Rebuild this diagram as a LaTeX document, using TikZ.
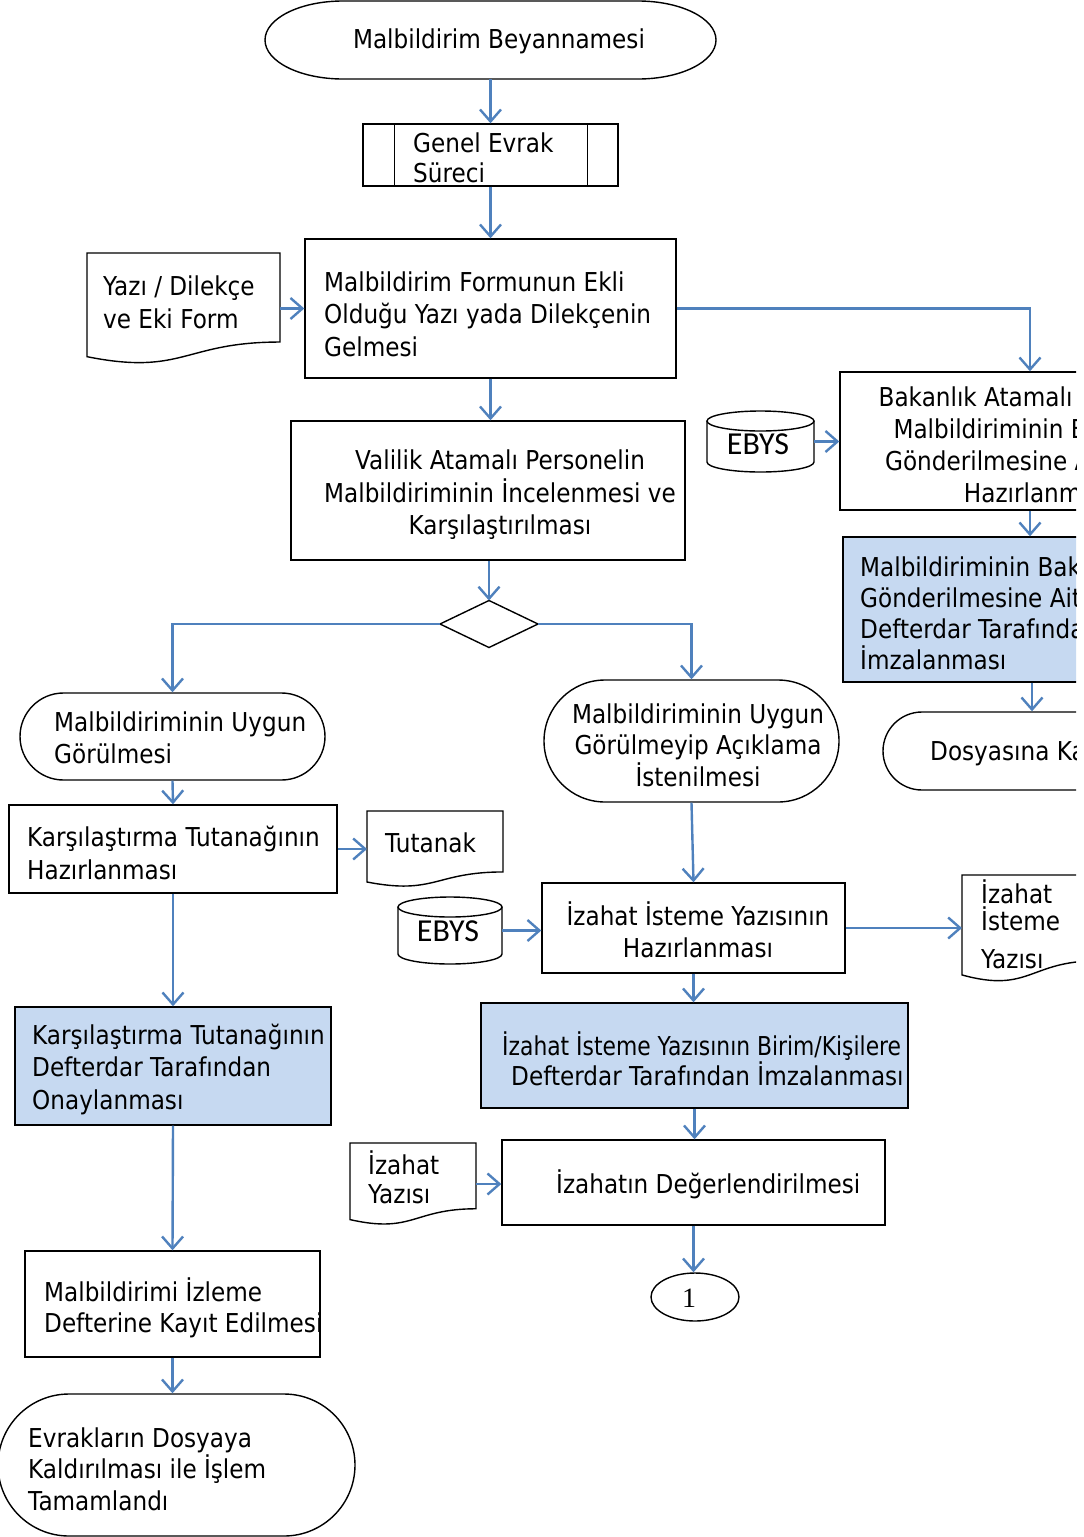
\documentclass[tikz,border=0pt]{standalone}
\usepackage{fontspec}
\setmainfont{DejaVu Sans}[FakeStretch=0.89]
\newfontfamily\narrowfont{DejaVu Sans}[FakeStretch=0.84]
\newfontfamily\ebysfont{Carlito}
\newfontfamily\onefont{Liberation Serif}
\usetikzlibrary{arrows.meta,shapes.misc,shapes.geometric,calc}
\definecolor{arrowblue}{HTML}{4F81BD}
\definecolor{fillblue}{HTML}{C6D9F1}
\tikzset{
  box/.style={draw=black, line width=1.4pt, rectangle, inner sep=0pt},
  bluebox/.style={box, fill=fillblue},
  term/.style={draw=black, line width=1.4pt, rounded rectangle, inner sep=0pt},
  ghost/.style={inner sep=0pt, outer sep=0pt, draw=none, rectangle},
  shapeline/.style={draw=black, line width=1.4pt},
  txt/.style={inner sep=0pt, font=\fontsize{26}{32.5}\selectfont, align=left, anchor=west},
  ctxt/.style={inner sep=0pt, font=\fontsize{26}{32.5}\selectfont, align=center},
  flow/.style={draw=arrowblue, line width=2.4pt, -{Straight Barb[length=12pt,width=21pt,line width=2.4pt]}},
}
\newcommand\docshp[5]{%
  \node[ghost, minimum width=#4pt, minimum height=#5pt, anchor=north west] (#1) at (#2,#3) {};
  \draw[shapeline] (#1.north west) -- (#1.north east) -- ($(#1.north east)+(0,0.802*#5)$)
    .. controls ($(#1.north west)+(0.5*#4,0.802*#5)$) and ($(#1.north west)+(0.5*#4,1.108*#5)$)
    .. ($(#1.north west)+(0,0.934*#5)$) -- cycle;
}
\begin{document}
\begin{tikzpicture}[x=1pt,y=-1pt]
\fill[white] (0,0) rectangle (1084,1537);
\useasboundingbox (0,0) rectangle (1084,1537);
\clip (0,0) rectangle (1076,1537);

% top terminator
\node[ghost, minimum width=451pt, minimum height=78pt] (t1) at (490.5,40) {};
\draw[shapeline] (343,1) -- (638,1) arc[start angle=-90,end angle=90,x radius=78,y radius=39]
  -- (343,79) arc[start angle=90,end angle=270,x radius=78,y radius=39] -- cycle;
\node[ctxt] (t1t) at (499,41) {Malbildirim Beyannamesi};

% predefined process
\node[box, minimum width=255pt, minimum height=62pt] (p2) at (490.5,155) {};
\draw[shapeline] ([xshift=32pt]p2.north west) -- ([xshift=32pt]p2.south west);
\draw[shapeline] ([xshift=-31pt]p2.north east) -- ([xshift=-31pt]p2.south east);
\node[txt, font=\fontsize{26}{30}\selectfont] (p2t) at (413,158) {Genel Evrak\\Süreci};

% main box
\node[box, minimum width=371pt, minimum height=139pt] (b3) at (490.5,308.5) {};
\node[txt] (b3t) at (324,314) {Malbildirim Formunun Ekli\\Olduğu Yazı yada Dilekçenin\\Gelmesi};

% document Yazi / Dilekce
\docshp{d4}{87}{253}{193}{111}
\node[txt, font=\fontsize{26}{33}\selectfont] (d4t) at (103,302) {Yazı / Dilekçe\\ve Eki Form};

% Bakanlik box
\node[box, minimum width=380pt, minimum height=138pt] (b5) at (1030,441) {};
\node[ctxt, font=\fontsize{26}{32}\selectfont] (b5t) at (1039,445) {Bakanlık Atamalı Personelin\\Malbildiriminin Bakanlığa\\Gönderilmesine Ait Yazının\\Hazırlanması};

% EBYS cylinder 1
\node[ghost, minimum width=107pt, minimum height=61pt] (c6) at (760.5,441.5) {};
\draw[shapeline, fill=white] (707,421) -- (707,462) arc[start angle=180,end angle=0,x radius=53.5,y radius=10] -- (814,421);
\draw[shapeline] (760.5,421) ellipse[x radius=53.5,y radius=10];
\node[inner sep=0pt, font=\ebysfont\fontsize{32}{36}\selectfont] (c6t) at (758,444) {EBYS};

% blue box right
\node[bluebox, minimum width=378pt, minimum height=145pt] (b7) at (1032,609.5) {};
\node[txt, font=\fontsize{26}{31}\selectfont] (b7t) at (860,613) {Malbildiriminin Bakanlığa\\Gönderilmesine Ait Yazının\\Defterdar Tarafından\\İmzalanması};

% terminator right
\node[term, minimum width=300pt, minimum height=78pt] (t8) at (1033,751) {};
\node[txt] (t8t) at (930,753) {Dosyasına Kaldırılması};

% Valilik box
\node[box, minimum width=394pt, minimum height=139pt] (b9) at (488,490.5) {};
\node[ctxt] (b9t) at (500,495) {Valilik Atamalı Personelin\\Malbildiriminin İncelenmesi ve\\Karşılaştırılması};

% diamond
\node[ghost, minimum width=98pt, minimum height=47pt] (dm) at (489,624) {};
\draw[shapeline] (dm.north) -- (dm.east) -- (dm.south) -- (dm.west) -- cycle;

% left terminator
\node[term, minimum width=305pt, minimum height=87pt] (t10) at (172.5,736.5) {};
\node[txt] (t10t) at (54,738) {Malbildiriminin Uygun\\Görülmesi};

% right terminator
\node[term, minimum width=295pt, minimum height=122pt] (t11) at (691.5,741) {};
\node[ctxt, font=\fontsize{26}{31.5}\selectfont] (t11t) at (698,745) {Malbildiriminin Uygun\\Görülmeyip Açıklama\\İstenilmesi};

% Karsilastirma box
\node[box, minimum width=328pt, minimum height=88pt] (b12) at (173,849) {};
\node[txt] (b12t) at (27,853) {Karşılaştırma Tutanağının\\Hazırlanması};

% Tutanak doc
\docshp{d13}{367}{811}{136}{76}
\node[txt] (d13t) at (385,843) {Tutanak};

% blue box left
\node[bluebox, minimum width=316pt, minimum height=118pt] (b14) at (173,1066) {};
\node[txt] (b14t) at (32,1069) {Karşılaştırma Tutanağının\\Defterdar Tarafından\\Onaylanması};

% Izleme box
\node[box, minimum width=295pt, minimum height=106pt] (b15) at (172.5,1304) {};
\node[txt, font=\fontsize{26}{31}\selectfont] (b15t) at (44,1308) {Malbildirimi İzleme\\Defterine Kayıt Edilmesi};

% final terminator
\node[term, minimum width=357pt, minimum height=142pt] (t16) at (176.5,1465) {};
\node[txt, font=\fontsize{26}{31.5}\selectfont] (t16t) at (28,1469) {Evrakların Dosyaya\\Kaldırılması ile İşlem\\Tamamlandı};

% Izahat Isteme box
\node[box, minimum width=303pt, minimum height=90pt] (b17) at (693.5,928) {};
\node[ctxt] (b17t) at (698,930) {İzahat İsteme Yazısının\\Hazırlanması};

% EBYS cylinder 2
\node[ghost, minimum width=104pt, minimum height=67pt] (c18) at (450,930.5) {};
\draw[shapeline, fill=white] (398,907) -- (398,954) arc[start angle=180,end angle=0,x radius=52,y radius=10] -- (502,907);
\draw[shapeline] (450,907) ellipse[x radius=52,y radius=10];
\node[inner sep=0pt, font=\ebysfont\fontsize{32}{36}\selectfont] (c18t) at (448,931) {EBYS};

% Izahat Isteme Yazisi doc
\docshp{d19}{962}{875}{135}{107}
\node[txt, font=\fontsize{26}{27}\selectfont] (d19t) at (981,924) {İzahat\\İsteme\\[11pt]Yazısı};

% blue box middle
\node[bluebox, minimum width=427pt, minimum height=105pt] (b20) at (694.5,1055.5) {};
\node[txt, font=\fontsize{26}{30}\selectfont] (b20t) at (502,1059) {{\narrowfont İzahat İsteme Yazısının Birim/Kişilere}\\\hspace*{9pt}Defterdar Tarafından İmzalanması};

% Izahat Yazisi doc
\docshp{d21}{350}{1143}{126}{82}
\node[txt, font=\fontsize{26}{29}\selectfont] (d21t) at (368,1177) {İzahat\\Yazısı};

% Degerlendirme box
\node[box, minimum width=383pt, minimum height=85pt] (b22) at (693.5,1182.5) {};
\node[txt] (b22t) at (556,1184) {İzahatın Değerlendirilmesi};

% connector ellipse
\node[draw=black, line width=1.4pt, ellipse, inner sep=0pt, minimum width=88pt, minimum height=48pt] (e23) at (695,1297) {};
\node[inner sep=0pt, font=\onefont\fontsize{28}{30}\selectfont] (e23t) at (689,1298) {1};

% connectors
\draw[flow] (t1.south) -- (p2.north);
\draw[flow] (p2.south) -- (b3.north);
\draw[flow] (d4.east) -- (d4.east -| b3.west);
\draw[flow] (b3.east) -| (b5.north);
\draw[flow] (c6.east) -- (c6.east -| b5.west);
\draw[flow] (b5.south) -- (b5.south |- b7.north);
\draw[flow] (b7.south) -- (b7.south |- t8.north);
\draw[flow] (b3.south) -- (b3.south |- b9.north);
\draw[flow] (dm.north |- b9.south) -- (dm.north);
\draw[flow] (dm.west) -| (t10.north);
\draw[flow] (dm.east) -| (t11.north);
\draw[flow] (t10.south) -- (b12.north);
\draw[flow] (b12.east) -- (b12.east -| d13.west);
\draw[flow] (b12.south) -- (b14.north);
\draw[flow] (b14.south) -- (b15.north);
\draw[flow] (b15.south) -- (b15.south |- t16.north);
\draw[flow] (t11.south) -- (b17.north);
\draw[flow] (c18.east) -- (c18.east -| b17.west);
\draw[flow] (b17.east) -- (b17.east -| d19.west);
\draw[flow] (b17.south) -- (b17.south |- b20.north);
\draw[flow] (b20.south) -- (b20.south |- b22.north);
\draw[flow] (d21.east) -- (d21.east -| b22.west);
\draw[flow] (b22.south) -- (b22.south |- e23.north);
\end{tikzpicture}
\end{document}
